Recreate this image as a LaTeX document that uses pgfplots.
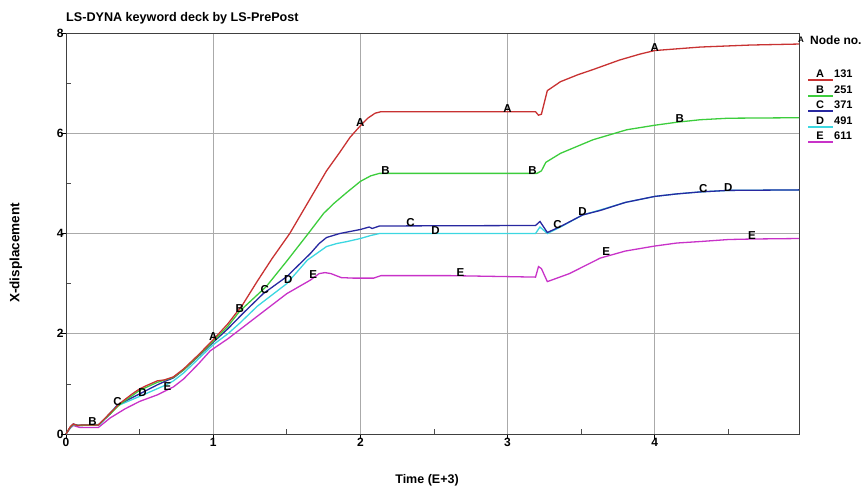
\documentclass[border=0pt]{standalone}
\usepackage{pgfplots}
\pgfplotsset{compat=1.18}
\usepackage{fontspec}
\setmainfont{Liberation Sans}
\definecolor{cA}{RGB}{200,50,50}
\definecolor{cB}{RGB}{60,205,60}
\definecolor{cC}{RGB}{40,40,160}
\definecolor{cD}{RGB}{60,215,225}
\definecolor{cE}{RGB}{200,50,200}
\definecolor{gridc}{RGB}{170,170,170}
\newcommand{\lf}{\fontsize{11.5}{11.5}\selectfont\bfseries}
\newcommand{\legrow}[4]{%
  \fill[#1] (808,#2-7.2) rectangle (833,#2-5.2);
  \node[inner sep=0pt,font=\fontsize{11}{11}\selectfont\bfseries] at (820,#2) {#3};
  \node[anchor=west,inner sep=0pt,font=\fontsize{11}{11}\selectfont\bfseries] at (834,#2) {#4};}
\begin{document}
\begin{tikzpicture}[x=1pt,y=1pt]
\useasboundingbox (0,0) rectangle (861,490);
\begin{axis}[
  at={(66pt,56pt)}, anchor=south west,
  scale only axis, width=733pt, height=401pt,
  xmin=0, xmax=4.98, ymin=0, ymax=8,
  xtick={0,1,2,3,4}, minor xtick={0.5,1.5,2.5,3.5,4.5},
  ytick={0,2,4,6,8}, minor ytick={1,3,5,7},
  xtick pos=bottom, ytick pos=left,
  tick align=inside,
  major tick length=5pt, minor tick length=5pt,
  every major y tick/.append style={xshift=-5pt, black, line width=0.6pt},
  every major x tick/.append style={yshift=-5pt, black, line width=0.6pt},
  every minor tick/.append style={black!70, line width=0.6pt},
  grid=major, major grid style={gridc, line width=0.7pt},
  axis line style={black!75, line width=0.8pt},
  /pgf/number format/assume math mode=true,
  ticklabel style={font=\fontsize{12}{12}\selectfont\bfseries},
  xticklabel style={yshift=-1pt},
  yticklabel style={xshift=1pt},
  clip=false,
  every axis plot/.append style={line width=1.3pt},
]
% E (611)
\addplot[cE] coordinates {
(0,0)(0.03,0.12)(0.05,0.17)(0.07,0.15)(0.095,0.13)(0.22,0.13)(0.3,0.32)(0.4,0.5)(0.5,0.65)(0.62,0.78)(0.73,0.94)(0.8,1.1)(0.9,1.4)(0.98,1.66)(1.0,1.7)(1.1,1.9)(1.18,2.08)(1.3,2.35)(1.5,2.8)(1.66,3.07)(1.72,3.2)(1.76,3.22)(1.8,3.2)(1.87,3.12)(1.95,3.11)(2.09,3.11)(2.14,3.16)(2.6,3.16)(3.0,3.14)(3.19,3.13)(3.21,3.34)(3.23,3.3)(3.27,3.04)(3.42,3.2)(3.63,3.51)(3.8,3.65)(4.0,3.75)(4.15,3.81)(4.31,3.84)(4.5,3.88)(4.66,3.89)(4.98,3.9)};
% D (491)
\addplot[cD] coordinates {
(0,0)(0.03,0.13)(0.05,0.19)(0.08,0.18)(0.23,0.19)(0.34,0.55)(0.5,0.75)(0.68,0.98)(0.73,1.06)(0.8,1.22)(0.9,1.5)(1.0,1.78)(1.1,2.0)(1.18,2.21)(1.3,2.55)(1.5,3.0)(1.64,3.47)(1.77,3.74)(1.84,3.8)(1.91,3.84)(2.0,3.9)(2.07,3.96)(2.13,4.0)(3.19,4.0)(3.22,4.13)(3.27,4.0)(3.36,4.13)(3.51,4.37)(3.63,4.47)(3.8,4.62)(4.0,4.74)(4.15,4.79)(4.31,4.83)(4.5,4.86)(4.98,4.87)};
% C (371)
\addplot[cC] coordinates {
(0,0)(0.03,0.14)(0.05,0.2)(0.08,0.17)(0.22,0.18)(0.3,0.4)(0.35,0.58)(0.5,0.8)(0.62,0.98)(0.68,1.06)(0.73,1.12)(0.8,1.28)(0.9,1.55)(1.0,1.83)(1.1,2.1)(1.2,2.4)(1.34,2.8)(1.5,3.14)(1.66,3.6)(1.72,3.8)(1.77,3.92)(1.86,4.0)(1.93,4.04)(2.0,4.08)(2.06,4.13)(2.08,4.1)(2.13,4.15)(3.19,4.16)(3.22,4.24)(3.27,4.02)(3.36,4.14)(3.51,4.37)(3.63,4.46)(3.8,4.62)(4.0,4.74)(4.15,4.79)(4.31,4.83)(4.5,4.86)(4.98,4.87)};
% B (251)
\addplot[cB] coordinates {
(0,0)(0.03,0.14)(0.05,0.19)(0.08,0.17)(0.22,0.18)(0.3,0.4)(0.37,0.6)(0.5,0.87)(0.62,1.03)(0.73,1.13)(0.8,1.28)(0.9,1.56)(1.0,1.85)(1.1,2.15)(1.18,2.45)(1.36,2.94)(1.5,3.45)(1.646,4.0)(1.75,4.4)(1.82,4.6)(1.9,4.8)(2.0,5.04)(2.07,5.15)(2.13,5.2)(3.2,5.2)(3.23,5.25)(3.26,5.42)(3.36,5.6)(3.58,5.87)(3.81,6.07)(4.0,6.16)(4.15,6.22)(4.31,6.27)(4.5,6.3)(4.98,6.31)};
% A (131)
\addplot[cA] coordinates {
(0,0)(0.03,0.15)(0.05,0.2)(0.08,0.17)(0.1,0.18)(0.22,0.18)(0.3,0.42)(0.37,0.62)(0.45,0.8)(0.5,0.9)(0.55,0.97)(0.62,1.06)(0.67,1.08)(0.73,1.14)(0.8,1.3)(0.9,1.58)(1.0,1.88)(1.1,2.2)(1.2,2.58)(1.3,3.05)(1.4,3.5)(1.52,4.0)(1.6,4.4)(1.7,4.9)(1.77,5.25)(1.86,5.62)(1.93,5.92)(2.0,6.15)(2.05,6.3)(2.1,6.4)(2.14,6.43)(3.19,6.43)(3.21,6.36)(3.23,6.38)(3.27,6.85)(3.36,7.03)(3.48,7.17)(3.58,7.27)(3.76,7.46)(3.9,7.58)(4.0,7.65)(4.31,7.72)(4.65,7.76)(4.98,7.78)};
% letter marks
\addplot[only marks, mark=text, text mark={\lf A}, mark options={black,yshift=3pt}] coordinates {(1.0,1.88)(2.0,6.15)(3.0,6.43)(4.0,7.65)};
\addplot[only marks, mark=text, text mark={\fontsize{8}{8}\selectfont\bfseries A}, mark options={black,xshift=2pt,yshift=4pt}] coordinates {(4.98,7.78)};
\addplot[only marks, mark=text, text mark={\lf B}, mark options={black,yshift=3pt}] coordinates {(0.18,0.18)(1.18,2.45)(2.17,5.2)(3.17,5.2)(4.17,6.23)};
\addplot[only marks, mark=text, text mark={\lf C}, mark options={black,yshift=3pt}] coordinates {(0.35,0.58)(1.35,2.82)(2.34,4.16)(3.34,4.12)(4.33,4.83)};
\addplot[only marks, mark=text, text mark={\lf D}, mark options={black,yshift=3pt}] coordinates {(0.52,0.77)(1.51,3.02)(2.51,4.0)(3.51,4.37)(4.5,4.86)};
\addplot[only marks, mark=text, text mark={\lf E}, mark options={black,yshift=3pt}] coordinates {(0.69,0.88)(1.68,3.12)(2.68,3.16)(3.67,3.58)(4.66,3.89)};
\end{axis}
\node[anchor=west, inner sep=0pt, font=\fontsize{12.6}{12.6}\selectfont\bfseries] at (66,472) {LS-DYNA keyword deck by LS-PrePost};
\node[anchor=west, inner sep=0pt, font=\fontsize{12}{12}\selectfont\bfseries] at (810,450) {Node no.};
\legrow{cA}{416}{A}{131}
\legrow{cB}{400.5}{B}{251}
\legrow{cC}{385}{C}{371}
\legrow{cD}{369.5}{D}{491}
\legrow{cE}{354}{E}{611}
\node[inner sep=0pt, font=\fontsize{12.5}{12.5}\selectfont\bfseries] at (427,10) {Time (E+3)};
\node[inner sep=0pt, rotate=90, font=\fontsize{13.5}{13.5}\selectfont\bfseries] at (16,237) {X-displacement};
\end{tikzpicture}
\end{document}
